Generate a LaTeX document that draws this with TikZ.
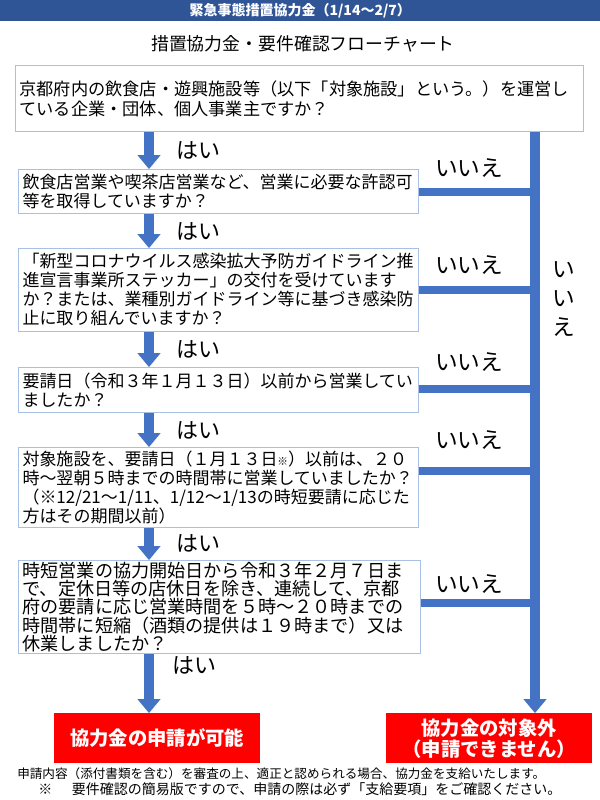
\documentclass[tikz,border=0pt]{standalone}
\usepackage{fontspec}
\setmainfont{Noto Sans CJK JP}
\usetikzlibrary{arrows.meta}
\definecolor{hdrblue}{HTML}{2F5597}
\definecolor{flowblue}{HTML}{4472C4}
\definecolor{boxline}{HTML}{A9BFE3}
\definecolor{alertred}{HTML}{FF0000}
\tikzset{
  qbox/.style={draw=boxline, line width=0.75pt, fill=white, anchor=north west, align=left,
    inner xsep=3pt, inner ysep=0pt, font=\fontsize{12.75pt}{14.25pt}\selectfont},
  yesarrow/.style={draw=flowblue, line width=7.5pt, -{Triangle[width=17.5pt,length=10.5pt,line width=0pt]}},
  nobar/.style={draw=flowblue, line width=6pt},
  yeslbl/.style={font=\fontsize{16.5pt}{16.5pt}\selectfont, anchor=west, inner sep=0pt},
  nolbl/.style={font=\fontsize{17pt}{17pt}\selectfont, inner sep=0pt},
  result/.style={fill=alertred, text=white, anchor=north west, align=center, inner sep=0pt,
    minimum width=154.5pt, minimum height=37.5pt, font=\bfseries\fontsize{14.5pt}{15.75pt}\selectfont},
}
\begin{document}
\begin{tikzpicture}[x=0.75pt,y=-0.75pt]
\path[fill=white] (0,0) rectangle (600,800);
\useasboundingbox (0,0) rectangle (600,800);

% header band and title
\node[fill=hdrblue, text=white, anchor=north west, minimum width=450pt, minimum height=15.75pt,
  inner sep=0pt, font=\bfseries\fontsize{10.5pt}{10.5pt}\selectfont] (hdr) at (0,0) {緊急事態措置協力金（1/14～2/7）};
\node[font=\fontsize{13.4pt}{13.4pt}\selectfont, inner sep=0pt] (title) at (303,44) {措置協力金・要件確認フローチャート};

% question boxes
\node[qbox, text width=420pt, minimum height=49.5pt, font=\fontsize{12.9pt}{15pt}\selectfont] (b1) at (15,65)
  {京都府内の飲食店・遊興施設等（以下「対象施設」という。）を運営し\\ている企業・団体、個人事業主ですか？};
\node[qbox, text width=294pt, minimum height=33pt] (b2) at (18,169)
  {飲食店営業や喫茶店営業など、営業に必要な許認可\\等を取得していますか？};
\node[qbox, text width=294pt, minimum height=62.25pt] (b3) at (18,248)
  {「新型コロナウイルス感染拡大予防ガイドライン推\\進宣言事業所ステッカー」の交付を受けています\\か？または、業種別ガイドライン等に基づき感染防\\止に取り組んでいますか？};
\node[qbox, text width=294pt, minimum height=33.75pt] (b4) at (18,367)
  {要請日（令和３年１月１３日）以前から営業してい\\ましたか？};
\node[qbox, text width=294pt, minimum height=60pt] (b5) at (18,447)
  {対象施設を、要請日（１月１３日{\fontsize{8pt}{8pt}\selectfont ※}）以前は、２０\\時～翌朝５時までの時間帯に営業していましたか？\\（※12/21～1/11、1/12～1/13の時短要請に応じた\\方はその期間以前）};
\node[qbox, text width=295.5pt, minimum height=69.75pt, font=\fontsize{13.6pt}{13.7pt}\selectfont] (b6) at (18,560)
  {時短営業の協力開始日から令和３年２月７日ま\\で、定休日等の店休日を除き、連続して、京都\\府の要請に応じ営業時間を５時～２０時までの\\時間帯に短縮（酒類の提供は１９時まで）又は\\休業しましたか？};

% result boxes
\node[result] (r1) at (54,713) {協力金の申請が可能};
\node[result] (r2) at (386,713) {協力金の対象外\\（申請できません）};

% connector columns
\coordinate (ax) at (149,0);
\coordinate (vx) at (535,0);

% "no" bars
\draw[nobar] (b2.east) -- (b2.east -| vx);
\draw[nobar] (b3.east) -- (b3.east -| vx);
\draw[nobar] ([yshift=1pt]b4.east) -- ([yshift=1pt]b4.east -| vx);
\draw[nobar] ([yshift=12.75pt]b5.east) -- ([yshift=12.75pt]b5.east -| vx);
\draw[nobar] ([yshift=3pt]b6.east) -- ([yshift=3pt]b6.east -| vx);
\draw[yesarrow] (b1.south -| vx) -- (r2.north -| vx);

% "yes" arrows
\draw[yesarrow] (b1.south -| ax) -- (b2.north -| ax);
\draw[yesarrow] (b2.south -| ax) -- (b3.north -| ax);
\draw[yesarrow] (b3.south -| ax) -- (b4.north -| ax);
\draw[yesarrow] (b4.south -| ax) -- (b5.north -| ax);
\draw[yesarrow] (b5.south -| ax) -- (b6.north -| ax);
\draw[yesarrow] (b6.south -| ax) -- (r1.north -| ax);

% labels
\node[yeslbl] (y1) at (176,150) {はい};
\node[yeslbl] (y2) at (176,231) {はい};
\node[yeslbl] (y3) at (176,349) {はい};
\node[yeslbl] (y4) at (176,430) {はい};
\node[yeslbl] (y5) at (176,543) {はい};
\node[yeslbl] (y6) at (172,665) {はい};

\node[nolbl] (n2) at (469,168) {いいえ};
\node[nolbl] (n3) at (469,265) {いいえ};
\node[nolbl] (n4) at (469,362) {いいえ};
\node[nolbl] (n5) at (469,440) {いいえ};
\node[nolbl] (n6) at (469,584) {いいえ};
\node[nolbl, align=center, font=\fontsize{17pt}{21.75pt}\selectfont] (nv) at (564,299) {い\\い\\え};

% footer
\node[anchor=west, inner sep=0pt, font=\fontsize{9.45pt}{9.45pt}\selectfont] (f1) at (17,774)
  {申請内容（添付書類を含む）を審査の上、適正と認められる場合、協力金を支給いたします。};
\node[anchor=west, inner sep=0pt, font=\fontsize{10.5pt}{10.5pt}\selectfont] (f2) at (38,789)
  {※\hspace{1.4em}要件確認の簡易版ですので、申請の際は必ず「支給要項」をご確認ください。};
\end{tikzpicture}
\end{document}
